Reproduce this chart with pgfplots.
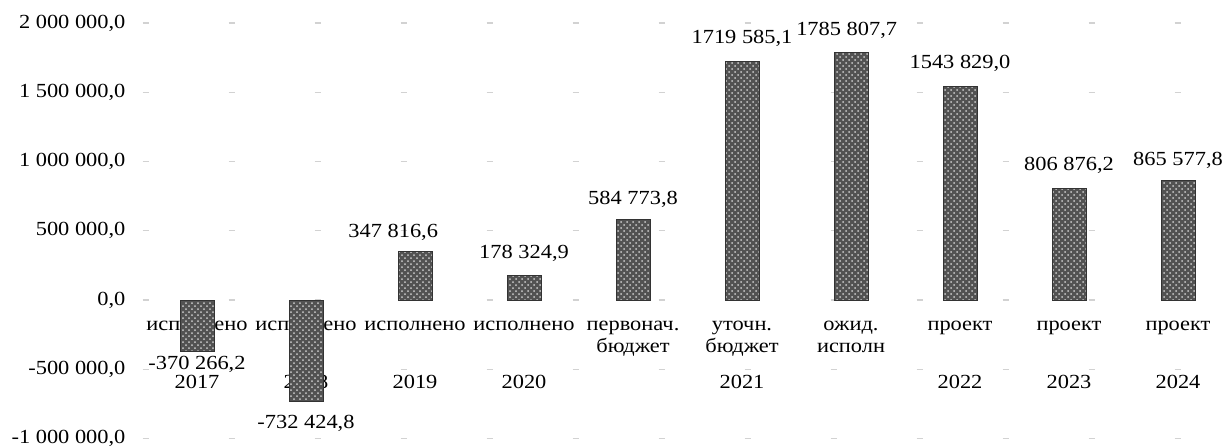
\documentclass[border=0pt]{standalone}
\usepackage{pgfplots}
\pgfplotsset{compat=1.18}
\usepackage{pgfplotstable}
\usepackage{fontspec}
\setmainfont{Liberation Serif}[FakeStretch=1.12]
\usetikzlibrary{patterns}

\pgfplotstableread{
x y
0 -370266.2
1 -732424.8
2 347816.6
3 178324.9
4 584773.8
5 1719585.1
6 1785807.7
7 1543829.0
8 806876.2
9 865577.8
}\bars

\pgfplotstableread{
x y label
0 -462000 {-370 266,2}
1 -888000 {-732 424,8}
1.80 491000 {347 816,6}
3 339000 {178 324,9}
4 729000 {584 773,8}
5 1892000 {1719 585,1}
5.96 1949000 {1785 807,7}
7 1711000 {1543 829,0}
8 975000 {806 876,2}
9 1011000 {865 577,8}
}\labels

\begin{document}
\begin{tikzpicture}
\useasboundingbox (0,0) rectangle (612pt,223.5pt);
\begin{axis}[
  at={(71.25pt,4.25pt)}, anchor=south west,
  scale only axis, width=540.64pt, height=207.75pt,
  xmin=-0.5, xmax=9.42, ymin=-1000000, ymax=2000000,
  axis x line*=middle, axis y line*=left,
  axis line style={draw=none}, major tick length=0pt,
  clip=false,
  ytick={-1000000,-500000,0,500000,1000000,1500000,2000000},
  scaled y ticks=false,
  /pgf/number format/fixed,
  /pgf/number format/fixed zerofill,
  /pgf/number format/precision=1,
  /pgf/number format/use comma,
  /pgf/number format/1000 sep={\ },
  /pgf/number format/assume math mode=true,
  yticklabel style={font=\fontsize{10}{12}\selectfont, xshift=-5pt},
  ymajorgrids, major grid style={gray!35, line width=0.6pt, dash pattern=on 3pt off 40pt},
  xtick={0,...,9},
  xticklabels={
    {исполнено\\~\\[7pt]2017},
    {исполнено\\~\\[7pt]2018},
    {исполнено\\~\\[7pt]2019},
    {исполнено\\~\\[7pt]2020},
    {первонач.\\бюджет\\[7pt]~},
    {уточн.\\бюджет\\[7pt]2021},
    {ожид.\\исполн\\[7pt]~},
    {проект\\~\\[7pt]2022},
    {проект\\~\\[7pt]2023},
    {проект\\~\\[7pt]2024}},
  xticklabel style={align=center, anchor=north, yshift=-7pt, font=\fontsize{10}{11}\selectfont},
]
\addplot[ybar, bar width=17pt, draw=black!80, fill=black!68,
  postaction={pattern=crosshatch dots, pattern color=black!20}] table[x=x,y=y] {\bars};
\addplot[draw=none, mark=none, nodes near coords, point meta=explicit symbolic,
  every node near coord/.append style={anchor=center, inner sep=1pt, font=\fontsize{10}{12}\selectfont}]
  table[x=x,y=y,meta=label] {\labels};
\end{axis}
\end{tikzpicture}
\end{document}
